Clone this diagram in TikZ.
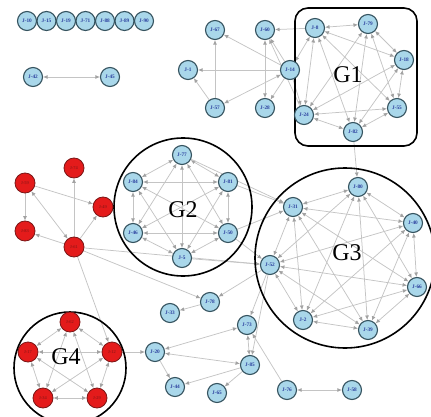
\documentclass[tikz,border=0pt]{standalone}
\usepackage{fontspec}
\setmainfont{Liberation Serif}
\usetikzlibrary{arrows.meta,backgrounds}
\definecolor{nodeblue}{HTML}{A9D7EA}
\definecolor{rimblue}{HTML}{35535F}
\definecolor{textblue}{HTML}{2B3F9E}
\definecolor{nodered}{HTML}{E41B1B}
\definecolor{rimred}{HTML}{7A1616}
\definecolor{linkgray}{HTML}{C4C4C4}
\definecolor{tipgray}{HTML}{A2A2A2}
\tikzset{
  bnode/.style={circle, fill=nodeblue, draw=rimblue, line width=1.1pt,
    minimum size=19pt, inner sep=0pt, text=textblue,
    font=\fontsize{5.3}{6}\selectfont\bfseries},
  rnode/.style={circle, fill=nodered, draw=rimred, line width=0.8pt,
    minimum size=20pt, inner sep=0pt, text=rimred,
    font=\fontsize{4.4}{5}\selectfont},
  link/.style={draw=linkgray, line width=0.75pt},
  tip/.tip={Latex[length=4.5pt,width=4pt,color=tipgray]},
  uni/.style={link, -tip},
  bi/.style={link, tip-tip},
  group/.style={draw=black, line width=1.6pt},
  glabel/.style={font=\fontsize{24}{24}\selectfont}
}
\begin{document}
\begin{tikzpicture}[x=1pt,y=-1pt]
\useasboundingbox (0,0) rectangle (431,417);

% isolated nodes
\foreach \lab [count=\i from 0] in {10,15,19,71,88,89,90}
  \node[bnode] (j\lab) at ({27+19.5*\i},21) {J-\lab};
\node[bnode] (j42) at (33,77) {J-42};
\node[bnode] (j45) at (110,77) {J-45};

% upper middle cluster
\node[bnode] (j67) at (215,30) {J-67};
\node[bnode] (j60) at (265,30) {J-60};
\node[bnode] (j1)  at (188,70) {J-1};
\node[bnode] (j14) at (290,70) {J-14};
\node[bnode] (j57) at (215,108) {J-57};
\node[bnode] (j28) at (265,108) {J-28};

% G1
\node[bnode] (j8)  at (315,28) {J-8};
\node[bnode] (j79) at (368,24) {J-79};
\node[bnode] (j18) at (404,60) {J-18};
\node[bnode] (j55) at (397,108) {J-55};
\node[bnode] (j82) at (353,132) {J-82};
\node[bnode] (j24) at (304,115) {J-24};

% red cluster
\node[rnode] (r59) at (25,183) {J-59};
\node[rnode] (r74) at (74,168) {J-74};
\node[rnode] (r49) at (103,207) {J-49};
\node[rnode] (r83) at (25,231) {J-83};
\node[rnode] (r61) at (74,247) {J-61};

% G2
\node[bnode] (j77) at (182,155) {J-77};
\node[bnode] (j84) at (133,182) {J-84};
\node[bnode] (j81) at (228,182) {J-81};
\node[bnode] (j46) at (133,233) {J-46};
\node[bnode] (j50) at (228,233) {J-50};
\node[bnode] (j5)  at (182,258) {J-5};

% G3
\node[bnode] (j80) at (358,187) {J-80};
\node[bnode] (j31) at (293,207) {J-31};
\node[bnode] (j40) at (413,223) {J-40};
\node[bnode] (j52) at (270,265) {J-52};
\node[bnode] (j66) at (417,287) {J-66};
\node[bnode] (j2)  at (303,320) {J-2};
\node[bnode] (j39) at (368,330) {J-39};

% lower middle
\node[bnode] (j78) at (210,302) {J-78};
\node[bnode] (j33) at (170,313) {J-33};
\node[bnode] (j73) at (247,325) {J-73};
\node[bnode] (j20) at (155,352) {J-20};
\node[bnode] (j85) at (250,365) {J-85};
\node[bnode] (j44) at (175,387) {J-44};
\node[bnode] (j65) at (217,393) {J-65};
\node[bnode] (j76) at (287,390) {J-76};
\node[bnode] (j58) at (352,390) {J-58};

% G4
\node[rnode] (r62) at (70,322) {J-62};
\node[rnode] (r17) at (28,352) {J-17};
\node[rnode] (r12) at (112,352) {J-12};
\node[rnode] (r34) at (43,398) {J-34};
\node[rnode] (r29) at (97,398) {J-29};

\begin{scope}[on background layer]
  % links between single nodes
  \draw[bi] (j42) -- (j45);
  \foreach \a/\b in {j14/j1, j14/j67, j14/j28, j14/j60, j57/j67, j57/j1,
                     j8/j60, j24/j60, j14/j24, j82/j80}
    \draw[uni] (\a) -- (\b);
  \draw[bi] (j14) -- (j57);
  \draw[bi] (j60) -- (j28);
  \draw[bi] (j8) -- (j14);

  % fully linked groups
  \foreach \a/\b in {j8/j79, j8/j18, j8/j55, j8/j82, j8/j24, j79/j18, j79/j55,
                     j79/j82, j79/j24, j18/j55, j18/j82, j18/j24, j55/j82,
                     j55/j24, j82/j24}
    \draw[bi] (\a) -- (\b);
  \foreach \a/\b in {j77/j84, j77/j81, j77/j46, j77/j50, j77/j5, j84/j81,
                     j84/j46, j84/j50, j84/j5, j81/j46, j81/j50, j81/j5,
                     j46/j50, j46/j5, j50/j5}
    \draw[bi] (\a) -- (\b);
  \foreach \a/\b in {j80/j31, j80/j40, j80/j52, j80/j66, j80/j2, j80/j39,
                     j31/j40, j31/j52, j31/j66, j31/j2, j31/j39,
                     j40/j52, j40/j66, j40/j2, j40/j39,
                     j52/j66, j52/j2, j52/j39, j66/j2, j66/j39, j2/j39}
    \draw[bi] (\a) -- (\b);
  \foreach \a/\b in {r62/r17, r62/r12, r62/r34, r62/r29, r17/r12, r17/r34,
                     r17/r29, r12/r34, r12/r29, r34/r29}
    \draw[bi] (\a) -- (\b);

  % red cluster
  \foreach \a/\b in {r59/r49, r59/r83, r61/r74, r61/r49, r61/r83, r61/j78,
                     r61/r12, r12/j20, r61/j52}
    \draw[uni] (\a) -- (\b);
  \draw[bi] (r59) -- (r61);

  % links between groups and the lower nodes
  \foreach \a/\b in {j77/j31, j81/j31, j50/j31, j50/j52, j5/j52,
                     j52/j78, j78/j33, j52/j73, j52/j85, j20/j44,
                     j85/j44, j85/j65, j76/j73}
    \draw[uni] (\a) -- (\b);
  \foreach \a/\b in {j20/j73, j20/j85, j73/j85, j76/j58}
    \draw[bi] (\a) -- (\b);

  % group outlines
  \draw[group, rounded corners=13pt] (295,8) rectangle (417,146);
  \draw[group] (183,207) circle[radius=69];
  \draw[group] (345,258) circle[radius=90];
  \draw[group] (70,368) circle[radius=56];
\end{scope}

\node[glabel] (g1) at (348,75) {G1};
\node[glabel] (g2) at (183,210) {G2};
\node[glabel] (g3) at (347,253) {G3};
\node[glabel] (g4) at (66,357) {G4};
\end{tikzpicture}
\end{document}
